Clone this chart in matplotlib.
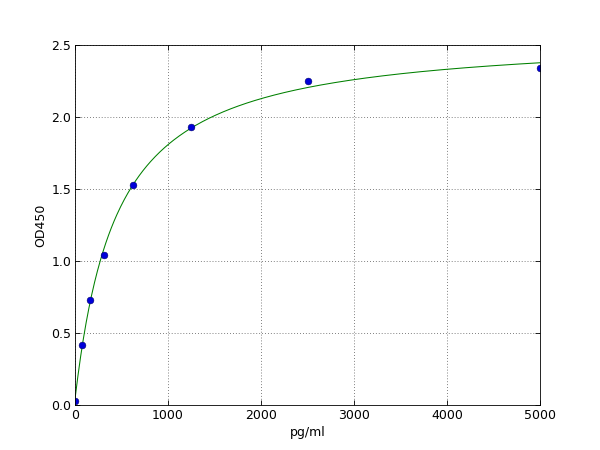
import numpy as np
import matplotlib
matplotlib.use("Agg")
import matplotlib.pyplot as plt

# standard curve points
conc = [0, 78, 156, 312, 625, 1250, 2500, 5000]
od450 = [0.03, 0.42, 0.73, 1.04, 1.53, 1.93, 2.25, 2.34]

x_ticks = [0, 1000, 2000, 3000, 4000, 5000]
y_ticks = [0.0, 0.5, 1.0, 1.5, 2.0, 2.5]


def fit_4pl(x, y):
    # grid search over c and b, a and d solved by linear least squares
    x = np.asarray(x, float)
    y = np.asarray(y, float)
    best = None
    for c in np.linspace(100, 2000, 381):
        for b in np.linspace(0.5, 2.0, 151):
            g = 1.0 / (1.0 + (x / c) ** b)
            A = np.column_stack([g, 1 - g])
            coef, *_ = np.linalg.lstsq(A, y, rcond=None)
            err = np.sum((A @ coef - y) ** 2)
            if best is None or err < best[0]:
                best = (err, coef[0], b, c, coef[1])
    return best[1:]


a, b, c, d = fit_4pl(conc, od450)
xs = np.linspace(0, 5000, 500)
ys = d + (a - d) / (1 + (xs / c) ** b)

plt.rcParams['font.size'] = 12
fig = plt.figure(figsize=(8, 6), dpi=75)
ax = fig.add_axes([0.125, 0.1, 0.775, 0.8])
ax.plot(xs, ys, color=(0, 0.5, 0), lw=1)
ax.plot(conc, od450, 'o', color=(0, 0, 0.85), mec=(0, 0, 0.4), ms=6.5, mew=0.5)
ax.set_xlim(0, 5000)
ax.set_ylim(0, 2.5)
ax.set_xticks(x_ticks)
ax.set_yticks(y_ticks)
ax.set_yticklabels(['%.1f' % v for v in y_ticks])
ax.grid(True, color='#555555', linestyle=(0, (1, 2.5)), linewidth=0.8)
ax.tick_params(direction='in', top=True, right=True, length=5)
ax.set_xlabel('pg/ml')
ax.set_ylabel('OD450')
fig.savefig('out.png', dpi=75)
